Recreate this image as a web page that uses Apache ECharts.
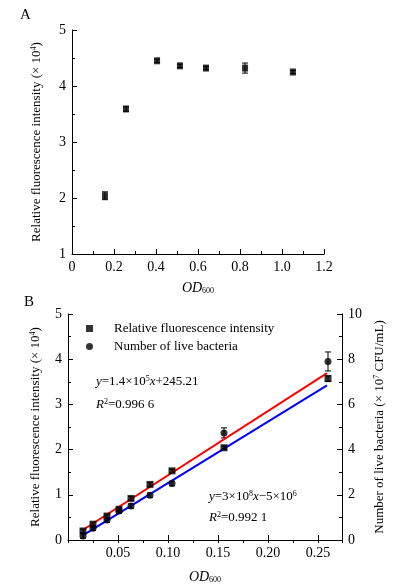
<!DOCTYPE html>
<html><head><meta charset="utf-8">
<script src="https://cdn.jsdelivr.net/npm/echarts@6/dist/echarts.min.js"></script>
<style>html,body{margin:0;padding:0;background:#fff}#c{width:396px;height:585px}</style>
</head><body><div id="c"></div>
<script>
// Panel A data
const odA = [0.157, 0.257, 0.405, 0.514, 0.638, 0.824, 1.052];
const fluorA = [2.04, 3.59, 4.45, 4.36, 4.32, 4.32, 4.25];
const fluorAErr = [0.07, 0.04, 0.03, 0.03, 0.03, 0.09, 0.03];
// Panel B data
const odB = [0.015, 0.025, 0.039, 0.051, 0.063, 0.082, 0.104, 0.156, 0.26];
const fluorB = [0.2, 0.35, 0.53, 0.68, 0.92, 1.23, 1.53, 2.04, 3.57];
const fluorBErr = [0.04, 0.04, 0.04, 0.04, 0.04, 0.04, 0.04, 0.04, 0.06];
const bactB = [0.18, 0.52, 0.88, 1.28, 1.5, 1.98, 2.5, 4.74, 7.9];
const bactBErr = [0.1, 0.1, 0.1, 0.1, 0.1, 0.1, 0.1, 0.22, 0.42];
// fitted lines (endpoints as read)
const fitFluorX = [0.014, 0.259];
const fitFluorY = [0.21, 3.69];
const fitBactX = [0.014, 0.259];
const fitBactY = [0.18, 6.84];
const legendNames = ['Relative fluorescence intensity', 'Number of live bacteria'];

const FONT = '"Liberation Serif", "DejaVu Serif", serif';
const zip = (a, b) => a.map((v, i) => [v, b[i]]);
const zip3 = (a, b, c) => a.map((v, i) => [v, b[i], c[i]]);

function errRender(params, api) {
  const x = api.value(0), y = api.value(1), e = api.value(2);
  const top = api.coord([x, y + e]);
  const bot = api.coord([x, y - e]);
  const w = 3;
  const st = { stroke: '#000', lineWidth: 1 };
  return { type: 'group', children: [
    { type: 'line', shape: { x1: top[0], y1: top[1], x2: bot[0], y2: bot[1] }, style: st },
    { type: 'line', shape: { x1: top[0] - w, y1: top[1], x2: top[0] + w, y2: top[1] }, style: st },
    { type: 'line', shape: { x1: bot[0] - w, y1: bot[1], x2: bot[0] + w, y2: bot[1] }, style: st }
  ]};
}

const axisBase = {
  axisLine: { show: true, onZero: false, lineStyle: { color: '#000', width: 1 } },
  axisTick: { show: true, inside: true, length: 5, lineStyle: { color: '#000' } },
  minorTick: { show: true, splitNumber: 2, length: 3, lineStyle: { color: '#000' } },
  splitLine: { show: false },
  axisLabel: { color: '#000', fontFamily: FONT, fontSize: 14, margin: 6 },
  nameTextStyle: { color: '#000', fontFamily: FONT, fontSize: 13 }
};
function ax(o) { return Object.assign({}, JSON.parse(JSON.stringify(axisBase)), o); }

const odName = {
  name: '{i|OD}{s|600}',
  nameLocation: 'middle',
  nameTextStyle: { color: '#000', fontFamily: FONT, fontSize: 13, rich: {
    i: { fontFamily: FONT, fontSize: 14, fontStyle: 'italic', color: '#000' },
    s: { fontFamily: FONT, fontSize: 8, color: '#000', verticalAlign: 'bottom', padding: [6, 0, 0, 0] }
  } }
};
const supRich = {
  t: { fontFamily: FONT, fontSize: 13, color: '#000' },
  u: { fontFamily: FONT, fontSize: 8, color: '#000', verticalAlign: 'top', padding: [0, 0, 6, 0] }
};

const chart = echarts.init(document.getElementById('c'), null, { renderer: 'canvas' });
chart.setOption({
  backgroundColor: '#fff',
  animation: false,
  grid: [
    { left: 72, top: 30, width: 252, height: 224 },
    { left: 68, top: 314, width: 274, height: 228 }
  ],
  xAxis: [
    Object.assign(ax({ gridIndex: 0, type: 'value', min: 0, max: 1.2, interval: 0.2, nameGap: 27 }), odName,
      { axisLabel: Object.assign({}, axisBase.axisLabel, { formatter: v => v === 0 ? '0' : v.toFixed(1) }) }),
    Object.assign(ax({ gridIndex: 1, type: 'value', min: 0, max: 0.274, interval: 0.05, nameGap: 30 }), odName,
      { minorTick: { show: false },
        axisLabel: Object.assign({}, axisBase.axisLabel, { formatter: v => (v > 0.001 && v < 0.26) ? v.toFixed(2) : '' }) }),
    ax({ gridIndex: 1, type: 'value', min: 0, max: 0.274, interval: 0.025, axisLine: { show: false },
      axisTick: { show: true, inside: true, length: 3, lineStyle: { color: '#000' } }, minorTick: { show: false },
      axisLabel: { show: false } })
  ],
  yAxis: [
    ax({ gridIndex: 0, type: 'value', min: 1, max: 5, interval: 1,
      name: '{t|Relative fluorescence intensity (× 10}{u|4}{t|)}', nameLocation: 'middle', nameGap: 28,
      nameTextStyle: { color: '#000', fontFamily: FONT, fontSize: 13, rich: supRich } }),
    ax({ gridIndex: 1, type: 'value', min: 0, max: 5, interval: 1,
      name: '{t|Relative fluorescence intensity (× 10}{u|4}{t|)}', nameLocation: 'middle', nameGap: 25,
      nameTextStyle: { color: '#000', fontFamily: FONT, fontSize: 13, rich: supRich } }),
    ax({ gridIndex: 1, type: 'value', position: 'right', min: 0, max: 10, interval: 2,
      name: '{t|Number of live bacteria (× 10}{u|7}{t| CFU/mL)}', nameLocation: 'middle', nameGap: 30,
      nameRotate: 90,
      nameTextStyle: { color: '#000', fontFamily: FONT, fontSize: 13, rich: supRich } })
  ],
  legend: {
    orient: 'vertical', left: 81, top: 317, itemWidth: 7, itemHeight: 7, itemGap: 5,
    data: [{ name: legendNames[0], icon: 'rect' }, { name: legendNames[1], icon: 'circle' }],
    textStyle: { color: '#000', fontFamily: FONT, fontSize: 13, padding: [0, 0, 0, 16] },
    selectedMode: false
  },
  graphic: [
    { type: 'text', left: 20, top: 8, style: { text: 'A', font: '15px ' + FONT, fill: '#000' } },
    { type: 'text', left: 24, top: 295, style: { text: 'B', font: '15px ' + FONT, fill: '#000' } },
    { type: 'text', left: 96, top: 375, style: { text: '{i|y}{t|=1.4×10}{u|5}{i|x}{t|+245.21}',
      rich: Object.assign({ i: { fontFamily: FONT, fontSize: 13, fontStyle: 'italic', fill: '#000' } }, supRich) } },
    { type: 'text', left: 96, top: 398, style: { text: '{i|R}{u|2}{t|=0.996 6}',
      rich: Object.assign({ i: { fontFamily: FONT, fontSize: 13, fontStyle: 'italic', fill: '#000' } }, supRich) } },
    { type: 'text', left: 209, top: 490, style: { text: '{i|y}{t|=3×10}{u|8}{i|x}{t|−5×10}{u|6}',
      rich: Object.assign({ i: { fontFamily: FONT, fontSize: 13, fontStyle: 'italic', fill: '#000' } }, supRich) } },
    { type: 'text', left: 209, top: 511, style: { text: '{i|R}{u|2}{t|=0.992 1}',
      rich: Object.assign({ i: { fontFamily: FONT, fontSize: 13, fontStyle: 'italic', fill: '#000' } }, supRich) } }
  ],
  series: [
    { type: 'custom', xAxisIndex: 0, yAxisIndex: 0, renderItem: errRender, data: zip3(odA, fluorA, fluorAErr), z: 1 },
    { type: 'scatter', name: 'A', xAxisIndex: 0, yAxisIndex: 0, symbol: 'rect', symbolSize: [6, 7],
      itemStyle: { color: '#000' }, data: zip(odA, fluorA), z: 3 },
    { type: 'line', xAxisIndex: 1, yAxisIndex: 1, data: zip(fitFluorX, fitFluorY), symbol: 'none',
      lineStyle: { color: '#ff0000', width: 2 }, z: 2 },
    { type: 'line', xAxisIndex: 1, yAxisIndex: 2, data: zip(fitBactX, fitBactY), symbol: 'none',
      lineStyle: { color: '#0000ff', width: 2 }, z: 2 },
    { type: 'custom', xAxisIndex: 1, yAxisIndex: 1, renderItem: errRender, data: zip3(odB, fluorB, fluorBErr), z: 1 },
    { type: 'custom', xAxisIndex: 1, yAxisIndex: 2, renderItem: errRender, data: zip3(odB, bactB, bactBErr), z: 1 },
    { type: 'scatter', name: legendNames[0], xAxisIndex: 1, yAxisIndex: 1, symbol: 'rect', symbolSize: 7,
      itemStyle: { color: '#000' }, data: zip(odB, fluorB), z: 3 },
    { type: 'scatter', name: legendNames[1], xAxisIndex: 1, yAxisIndex: 2, symbol: 'circle', symbolSize: 7,
      itemStyle: { color: '#000' }, data: zip(odB, bactB), z: 3 }
  ]
});
</script></body></html>
